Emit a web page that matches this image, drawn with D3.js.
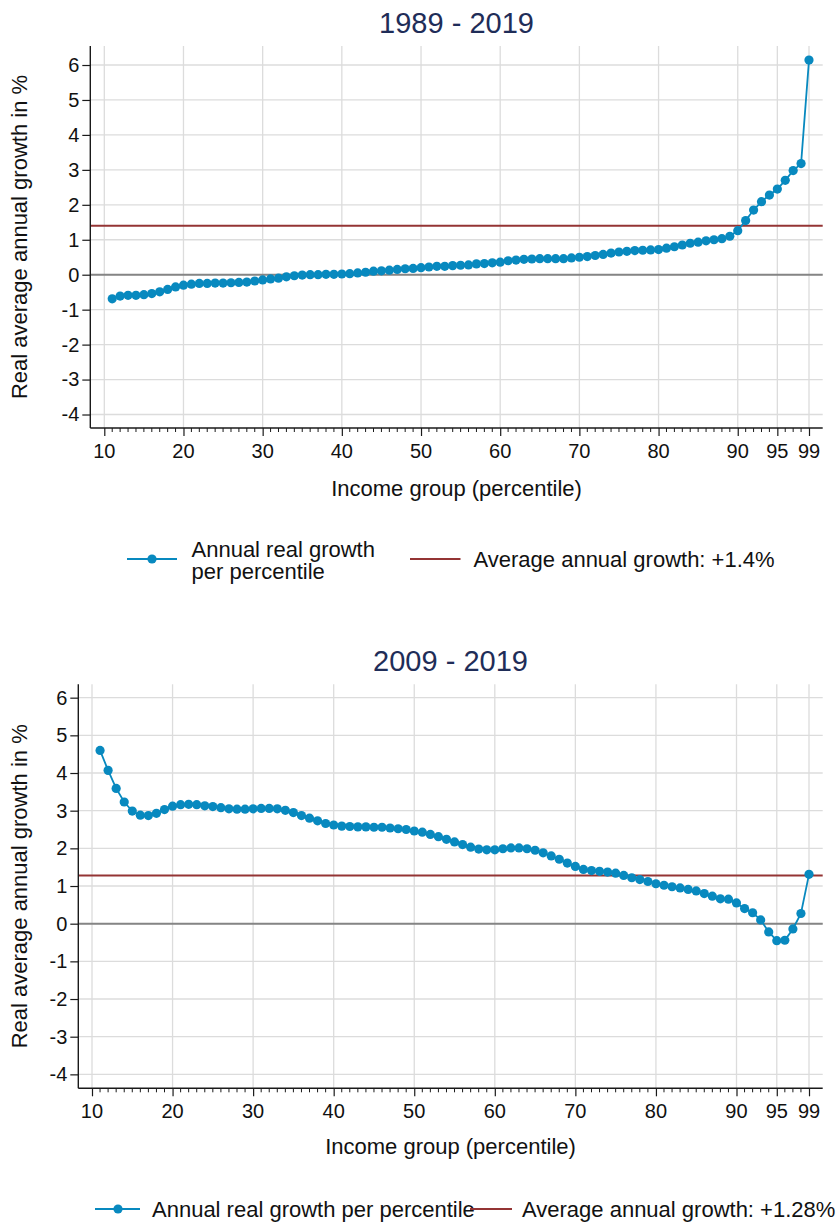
<!DOCTYPE html>
<html>
<head>
<meta charset="utf-8">
<script src="https://cdn.jsdelivr.net/npm/d3@7"></script>
<style>
  html, body { margin: 0; padding: 0; background: #fff; }
  svg { display: block; font-family: "Liberation Sans", Arial, sans-serif; }
</style>
</head>
<body>
<svg id="chart" width="839" height="1222"></svg>
<script>
// ---------------- DATA ----------------
const percentiles = [11,12,13,14,15,16,17,18,19,20,21,22,23,24,25,26,27,28,29,30,
  31,32,33,34,35,36,37,38,39,40,41,42,43,44,45,46,47,48,49,50,
  51,52,53,54,55,56,57,58,59,60,61,62,63,64,65,66,67,68,69,70,
  71,72,73,74,75,76,77,78,79,80,81,82,83,84,85,86,87,88,89,90,
  91,92,93,94,95,96,97,98,99];

const growth1989_2019 = [-0.69,-0.61,-0.59,-0.59,-0.57,-0.54,-0.49,-0.42,-0.35,-0.30,
  -0.27,-0.25,-0.25,-0.24,-0.24,-0.23,-0.22,-0.21,-0.18,-0.15,
  -0.12,-0.10,-0.06,-0.03,-0.01,0.00,0.00,0.01,0.01,0.02,
  0.03,0.05,0.07,0.10,0.11,0.13,0.15,0.17,0.18,0.20,
  0.22,0.24,0.24,0.26,0.27,0.28,0.31,0.32,0.34,0.36,
  0.40,0.42,0.44,0.45,0.46,0.46,0.46,0.46,0.48,0.50,
  0.52,0.55,0.58,0.62,0.65,0.67,0.69,0.70,0.71,0.72,
  0.76,0.80,0.85,0.90,0.93,0.97,1.00,1.03,1.10,1.26,
  1.55,1.85,2.09,2.28,2.45,2.70,2.98,3.18,6.14];

const growth2009_2019 = [4.60,4.07,3.59,3.23,2.99,2.88,2.87,2.93,3.03,3.12,
  3.16,3.17,3.16,3.13,3.11,3.08,3.05,3.04,3.04,3.05,
  3.06,3.06,3.05,3.01,2.95,2.87,2.80,2.73,2.66,2.62,
  2.59,2.58,2.57,2.57,2.56,2.56,2.54,2.52,2.50,2.46,
  2.43,2.37,2.31,2.24,2.17,2.10,2.03,1.98,1.96,1.96,
  1.99,2.01,2.01,1.99,1.95,1.88,1.80,1.71,1.61,1.52,
  1.44,1.41,1.39,1.37,1.34,1.28,1.22,1.17,1.12,1.06,
  1.02,0.98,0.95,0.91,0.87,0.80,0.73,0.66,0.65,0.55,
  0.40,0.29,0.10,-0.22,-0.45,-0.44,-0.14,0.27,1.31];

const averages = [1.4, 1.28];
const titles = ["1989 - 2019", "2009 - 2019"];
const xTickValues = [10,20,30,40,50,60,70,80,90,95,99];
const yTickValues = [-4,-3,-2,-1,0,1,2,3,4,5,6];
const yTickLabels = ["-4","-3","-2","-1","0","1","2","3","4","5","6"];
const seriesLabel = "Annual real growth per percentile";
const avgLabels = ["Average annual growth: +1.4%", "Average annual growth: +1.28%"];
const xTitle = "Income group (percentile)";
const yTitle = "Real average annual growth in %";

// ---------------- STYLE / LAYOUT ----------------
const BLUE = "#0889bf";
const RED = "#943434";
const GRID = "#dcdcdc";
const ZERO = "#858585";
const AXIS = "#1a1a1a";
const TITLE_COLOR = "#1f2d58";
const R = 4.6;
const TICK_FS = 20;

const panels = [
  { values: growth1989_2019, avg: averages[0], title: titles[0], avgLabel: avgLabels[0],
    left: 90.3, right: 822.7, top: 46, bottom: 428,
    xDom: [8.232, 100.73], yDom: [-4.386, 6.544],
    titleY: 33, xLabY: 457.5, xTitleY: 496, legend: "two" , legendY: 559 },
  { values: growth2009_2019, avg: averages[1], title: titles[1], avgLabel: avgLabels[1],
    left: 78.3, right: 822.7, top: 684.3, bottom: 1088.3,
    xDom: [8.30, 100.70], yDom: [-4.37, 6.355],
    titleY: 671, xLabY: 1117.5, xTitleY: 1154, legend: "one", legendY: 1209 }
];

const svg = d3.select("#chart");

panels.forEach(p => {
  const x = d3.scaleLinear().domain(p.xDom).range([p.left, p.right]);
  const y = d3.scaleLinear().domain(p.yDom).range([p.bottom, p.top]);
  const g = svg.append("g");

  // grid
  g.append("g").selectAll("line").data(yTickValues).join("line")
    .attr("x1", p.left).attr("x2", p.right)
    .attr("y1", d => y(d)).attr("y2", d => y(d))
    .attr("stroke", GRID).attr("stroke-width", 1.3);
  g.append("g").selectAll("line").data(xTickValues).join("line")
    .attr("x1", d => x(d)).attr("x2", d => x(d))
    .attr("y1", p.top).attr("y2", p.bottom)
    .attr("stroke", GRID).attr("stroke-width", 1.3);

  // zero line
  g.append("line").attr("x1", p.left).attr("x2", p.right)
    .attr("y1", y(0)).attr("y2", y(0))
    .attr("stroke", ZERO).attr("stroke-width", 2);

  // average line
  g.append("line").attr("x1", p.left).attr("x2", p.right)
    .attr("y1", y(p.avg)).attr("y2", y(p.avg))
    .attr("stroke", RED).attr("stroke-width", 2);

  // y axis
  const yAxis = d3.axisLeft(y).tickValues(yTickValues).tickSize(8).tickPadding(3)
    .tickFormat((d, i) => yTickLabels[i]);
  const ya = g.append("g").attr("transform", `translate(${p.left},0)`).call(yAxis);
  ya.select(".domain").remove();
  ya.selectAll(".tick line").attr("stroke", AXIS).attr("stroke-width", 1.2);
  ya.selectAll(".tick text").attr("font-size", TICK_FS).attr("fill", "#111")
    .style("font-family", "'Liberation Sans', Arial, sans-serif");
  g.append("line").attr("x1", p.left).attr("x2", p.left)
    .attr("y1", p.top).attr("y2", p.bottom).attr("stroke", AXIS).attr("stroke-width", 1.4);

  // x axis minor ticks
  const minor = d3.range(11, 99).filter(v => !xTickValues.includes(v));
  g.append("g").selectAll("line").data(minor).join("line")
    .attr("x1", d => x(d)).attr("x2", d => x(d))
    .attr("y1", p.bottom).attr("y2", p.bottom + 4)
    .attr("stroke", AXIS).attr("stroke-width", 1);
  const xAxis = d3.axisBottom(x).tickValues(xTickValues).tickSize(8).tickFormat(d3.format("d"));
  const xa = g.append("g").attr("transform", `translate(0,${p.bottom})`).call(xAxis);
  xa.select(".domain").remove();
  xa.selectAll(".tick line").attr("stroke", AXIS).attr("stroke-width", 1.2);
  xa.selectAll(".tick text").remove();
  g.append("g").selectAll("text").data(xTickValues).join("text")
    .attr("x", d => x(d)).attr("y", p.xLabY)
    .attr("text-anchor", "middle").attr("font-size", TICK_FS).attr("fill", "#111")
    .text(d => d);
  g.append("line").attr("x1", p.left).attr("x2", p.right)
    .attr("y1", p.bottom).attr("y2", p.bottom).attr("stroke", AXIS).attr("stroke-width", 1.4);

  // series line + points
  const pts = percentiles.map((pc, i) => ({ pc, v: p.values[i] }));
  g.append("path").datum(pts)
    .attr("fill", "none").attr("stroke", BLUE).attr("stroke-width", 1.8)
    .attr("d", d3.line().x(d => x(d.pc)).y(d => y(d.v)));
  g.append("g").selectAll("circle").data(pts).join("circle")
    .attr("cx", d => x(d.pc)).attr("cy", d => y(d.v)).attr("r", R)
    .attr("fill", BLUE);

  // titles
  const cx = (p.left + p.right) / 2;
  g.append("text").attr("x", cx).attr("y", p.titleY).attr("text-anchor", "middle")
    .attr("font-size", 29).attr("fill", TITLE_COLOR).text(p.title);
  g.append("text").attr("x", cx).attr("y", p.xTitleY).attr("text-anchor", "middle")
    .attr("font-size", 22).attr("fill", "#111").text(xTitle);
  g.append("text")
    .attr("transform", `translate(27,${(p.top + p.bottom) / 2}) rotate(-90)`)
    .attr("text-anchor", "middle").attr("font-size", 22).attr("fill", "#111").text(yTitle);

  // legend
  const L = svg.append("g");
  if (p.legend === "two") {
    const ly = p.legendY;
    L.append("line").attr("x1", 127).attr("x2", 177).attr("y1", ly).attr("y2", ly)
      .attr("stroke", BLUE).attr("stroke-width", 1.8);
    L.append("circle").attr("cx", 152).attr("cy", ly).attr("r", R).attr("fill", BLUE);
    const words = seriesLabel.split(" ");
    const t = L.append("text").attr("font-size", 22).attr("fill", "#111");
    t.append("tspan").attr("x", 191.5).attr("y", 556.5).text(words.slice(0, 3).join(" "));
    t.append("tspan").attr("x", 191.5).attr("y", 579).text(words.slice(3).join(" "));
    L.append("line").attr("x1", 410).attr("x2", 460.5).attr("y1", ly).attr("y2", ly)
      .attr("stroke", RED).attr("stroke-width", 2);
    L.append("text").attr("x", 473.5).attr("y", ly + 8).attr("font-size", 22).attr("fill", "#111")
      .text(p.avgLabel);
  } else {
    const ly = p.legendY;
    L.append("line").attr("x1", 95).attr("x2", 140).attr("y1", ly).attr("y2", ly)
      .attr("stroke", BLUE).attr("stroke-width", 1.8);
    L.append("circle").attr("cx", 118).attr("cy", ly).attr("r", R).attr("fill", BLUE);
    L.append("text").attr("x", 152).attr("y", ly + 8).attr("font-size", 22).attr("fill", "#111")
      .text(seriesLabel);
    L.append("line").attr("x1", 470).attr("x2", 512).attr("y1", ly).attr("y2", ly)
      .attr("stroke", RED).attr("stroke-width", 2);
    L.append("text").attr("x", 522).attr("y", ly + 8).attr("font-size", 22).attr("fill", "#111")
      .text(p.avgLabel);
  }
});
</script>
</body>
</html>
